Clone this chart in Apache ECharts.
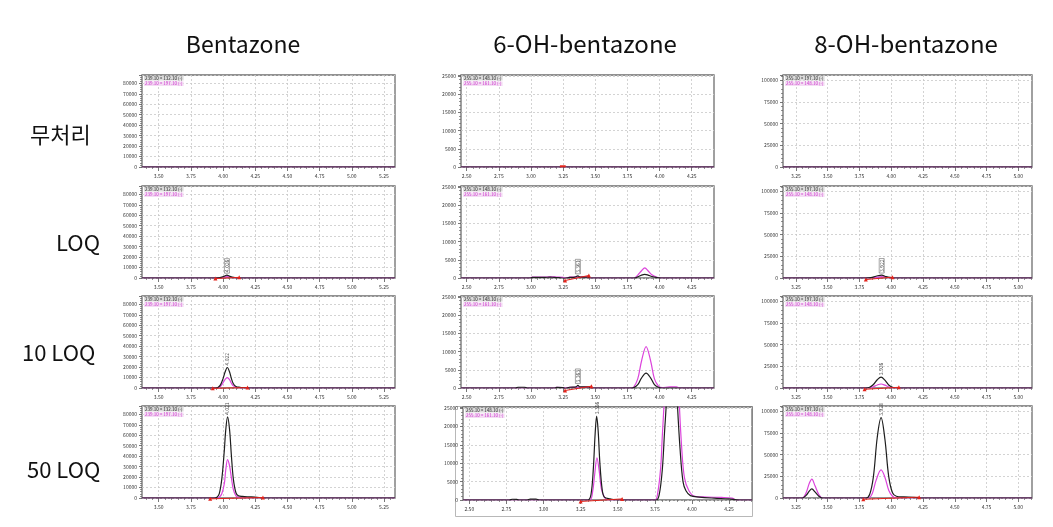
<!DOCTYPE html>
<html><head><meta charset="utf-8">
<script src="https://cdn.jsdelivr.net/npm/echarts@6/dist/echarts.min.js"></script>
<style>html,body{margin:0;padding:0;background:#fff}#c{width:1053px;height:527px}</style>
</head><body><div id="c"></div>
<script>
// ---------- labels ----------
const compounds = ['Bentazone', '6-OH-bentazone', '8-OH-bentazone'];
const levels = ['무처리', 'LOQ', '10 LOQ', '50 LOQ'];
const bentaMrm = ['239.10 > 132.10 (-)', '239.10 > 197.10 (-)'];
const oh6Mrm = ['255.10 > 148.10 (-)', '255.10 > 161.10 (-)'];
const oh8Mrm = ['255.10 > 197.10 (-)', '255.10 > 148.10 (-)'];

// ---------- tick labels ----------
const bentaXTicks = [3.50, 3.75, 4.00, 4.25, 4.50, 4.75, 5.00, 5.25];
const oh6XTicks = [2.50, 2.75, 3.00, 3.25, 3.50, 3.75, 4.00, 4.25];
const oh8XTicks = [3.25, 3.50, 3.75, 4.00, 4.25, 4.50, 4.75, 5.00];
const bentaYTicks = [0, 10000, 20000, 30000, 40000, 50000, 60000, 70000, 80000];
const oh6YTicks = [0, 5000, 10000, 15000, 20000, 25000];
const oh8YTicks = [0, 25000, 50000, 75000, 100000];

// ---------- Bentazone traces [time(min), intensity] ----------
const benta0Black = [[3.37, 0], [5.336, 0]];
const benta0Magenta = [[3.37, 0], [5.336, 0]];
const benta1Black = [[3.37,0],[3.93,0],[3.96,200],[3.99,900],[4.01,1800],[4.03,2700],[4.05,1800],[4.07,800],[4.10,200],[4.13,0],[5.336,0]];
const benta1Magenta = [[3.37,0],[3.96,0],[3.99,400],[4.01,900],[4.03,1300],[4.05,900],[4.07,400],[4.10,0],[5.336,0]];
const benta1Base = [[3.94,-500],[4.125,600]];
const benta1Peak = [4.03, 2700, '4.026'];
const benta2Black = [[3.37,0],[3.94,0],[3.96,500],[3.98,3000],[4.00,9000],[4.015,15000],[4.033,19600],[4.05,15500],[4.065,9000],[4.08,4000],[4.10,1500],[4.13,700],[4.18,300],[4.21,0],[5.336,0]];
const benta2Magenta = [[3.37,0],[3.96,0],[3.98,1500],[4.00,5000],[4.015,8000],[4.033,10000],[4.05,8000],[4.065,4500],[4.08,2000],[4.10,600],[4.12,0],[5.336,0]];
const benta2Base = [[3.92,-300],[4.19,400]];
const benta2Peak = [4.033, 19600, '4.022'];
const benta3Black = [[3.37,0],[3.93,0],[3.95,500],[3.97,4000],[3.99,18000],[4.01,46000],[4.02,64000],[4.035,77600],[4.05,66000],[4.065,40000],[4.08,18000],[4.10,5000],[4.12,2000],[4.15,1500],[4.22,1000],[4.28,400],[4.31,0],[5.336,0]];
const benta3Magenta = [[3.37,0],[3.95,0],[3.97,800],[3.99,4000],[4.01,14000],[4.02,26000],[4.035,36800],[4.05,31000],[4.065,19000],[4.08,8000],[4.10,2000],[4.12,500],[4.14,0],[5.336,0]];
const benta3Base = [[3.90,-800],[4.31,500]];
const benta3Peak = [4.035, 77600, '4.021'];

// ---------- 6-OH-bentazone traces ----------
const oh6_0Black = [[2.456,0],[4.423,0]];
const oh6_0Magenta = [[2.456,0],[4.423,0]];
const oh6_0Base = [[3.225,200],[3.27,200]];
const oh6_1Black = [[2.456,0],[2.99,0],[3.01,150],[3.10,150],[3.15,250],[3.18,150],[3.22,100],[3.265,-100],[3.30,150],[3.34,250],[3.365,600],[3.38,250],[3.44,250],[3.46,0],[3.80,0],[3.83,300],[3.86,800],[3.885,1000],[3.91,800],[3.94,400],[3.98,100],[4.01,0],[4.423,0]];
const oh6_1Magenta = [[2.456,0],[2.99,0],[3.01,250],[3.12,250],[3.15,350],[3.20,250],[3.25,150],[3.27,0],[3.30,250],[3.44,300],[3.46,0],[3.80,0],[3.83,800],[3.86,2000],[3.885,2800],[3.91,2000],[3.94,900],[3.98,200],[4.01,0],[4.423,0]];
const oh6_1Base = [[3.265,-700],[3.45,700]];
const oh6_1Peak = [3.365, 600, '3.361'];
const oh6_2Black = [[2.456,0],[2.88,0],[2.90,200],[2.95,200],[2.97,0],[3.18,0],[3.20,150],[3.25,100],[3.265,-150],[3.30,200],[3.35,300],[3.365,700],[3.38,300],[3.45,300],[3.47,0],[3.78,0],[3.80,100],[3.83,900],[3.86,2800],[3.895,4100],[3.93,2800],[3.96,900],[3.99,200],[4.02,0],[4.423,0]];
const oh6_2Magenta = [[2.456,0],[3.18,0],[3.20,200],[3.25,100],[3.27,0],[3.30,200],[3.45,250],[3.47,0],[3.78,0],[3.80,300],[3.83,2500],[3.86,7500],[3.895,11400],[3.93,7500],[3.96,2500],[3.99,600],[4.02,100],[4.08,300],[4.13,300],[4.16,0],[4.423,0]];
const oh6_2Base = [[3.265,-700],[3.47,500]];
const oh6_2Peak = [3.365, 700, '3.363'];
const oh6_3Black = [[2.4575,0],[2.77,0],[2.79,200],[2.82,150],[2.84,0],[2.89,0],[2.91,250],[2.95,250],[2.97,0],[3.30,0],[3.32,1500],[3.335,8000],[3.348,18000],[3.358,22800],[3.368,19000],[3.38,10000],[3.395,3000],[3.41,800],[3.45,300],[3.50,0],[3.76,0],[3.78,1500],[3.80,8000],[3.815,18000],[3.83,28000],[3.865,60000],[3.90,28000],[3.92,14000],[3.94,5000],[3.96,2500],[3.99,1200],[4.05,800],[4.15,500],[4.25,300],[4.32,0],[4.405,0]];
const oh6_3Magenta = [[2.4575,0],[3.31,0],[3.33,2000],[3.345,7000],[3.36,11500],[3.375,8000],[3.39,3000],[3.41,800],[3.43,0],[3.75,0],[3.77,2000],[3.79,9000],[3.80,17000],[3.815,28000],[3.86,65000],[3.91,30000],[3.93,15000],[3.95,6000],[3.98,2500],[4.02,1000],[4.10,800],[4.20,700],[4.27,500],[4.30,0],[4.405,0]];
const oh6_3Base = [[3.25,-400],[3.53,300]];
const oh6_3Peak = [3.358, 22800, '3.356'];

// ---------- 8-OH-bentazone traces ----------
const oh8_0Black = [[3.148,0],[5.108,0]];
const oh8_0Magenta = [[3.148,0],[5.108,0]];
const oh8_1Black = [[3.148,0],[3.80,0],[3.84,500],[3.88,2000],[3.925,3400],[3.96,1500],[4.00,300],[4.02,0],[5.108,0]];
const oh8_1Magenta = [[3.148,0],[3.84,0],[3.88,800],[3.925,1500],[3.97,500],[4.00,0],[5.108,0]];
const oh8_1Base = [[3.80,-1800],[4.01,1000]];
const oh8_1Peak = [3.925, 3400, '3.922'];
const oh8_2Black = [[3.148,0],[3.80,0],[3.83,800],[3.86,4000],[3.89,9500],[3.92,12500],[3.95,9000],[3.98,3500],[4.01,800],[4.04,0],[5.108,0]];
const oh8_2Magenta = [[3.148,0],[3.83,0],[3.86,1500],[3.89,3500],[3.92,4600],[3.95,3300],[3.98,1200],[4.01,200],[4.04,0],[5.108,0]];
const oh8_2Base = [[3.79,-1500],[4.06,800]];
const oh8_2Peak = [3.92, 12500, '3.926'];
const oh8_3Black = [[3.148,0],[3.30,0],[3.33,3000],[3.355,8000],[3.375,10500],[3.40,7000],[3.43,2000],[3.46,0],[3.80,0],[3.83,4000],[3.86,25000],[3.89,70000],[3.92,92500],[3.95,68000],[3.98,25000],[4.01,6000],[4.04,2000],[4.10,1200],[4.18,800],[4.22,0],[5.108,0]];
const oh8_3Magenta = [[3.148,0],[3.30,0],[3.33,6000],[3.355,17000],[3.375,21800],[3.40,14000],[3.43,4000],[3.46,0],[3.82,0],[3.85,5000],[3.88,20000],[3.92,32300],[3.95,24000],[3.98,9000],[4.01,2000],[4.04,0],[5.108,0]];
const oh8_3Base = [[3.78,-1500],[4.22,1000]];
const oh8_3Peak = [3.92, 92500, '3.928'];

// ---------- assembly ----------
const FONT = '"Noto Sans CJK KR", "Noto Sans", sans-serif';
const BLACK = '#1e1e1e', MAGENTA = '#dc44dc', RED = '#e3231b';

const columns = [
  { left: 142, width: 253, xmin: 3.37, xmax: 5.336, ymax: 88000, yint: 10000, xt: bentaXTicks, yt: bentaYTicks, mrm: bentaMrm,
    panels: [
      { black: benta0Black, magenta: benta0Magenta },
      { black: benta1Black, magenta: benta1Magenta, base: benta1Base, peak: benta1Peak, box: true },
      { black: benta2Black, magenta: benta2Magenta, base: benta2Base, peak: benta2Peak },
      { black: benta3Black, magenta: benta3Magenta, base: benta3Base, peak: benta3Peak }
    ] },
  { left: 461, width: 253, xmin: 2.456, xmax: 4.423, ymax: 25300, yint: 5000, xt: oh6XTicks, yt: oh6YTicks, mrm: oh6Mrm,
    panels: [
      { black: oh6_0Black, magenta: oh6_0Magenta, base: oh6_0Base, noSym: true },
      { black: oh6_1Black, magenta: oh6_1Magenta, base: oh6_1Base, peak: oh6_1Peak, box: true },
      { black: oh6_2Black, magenta: oh6_2Magenta, base: oh6_2Base, peak: oh6_2Peak, box: true },
      { black: oh6_3Black, magenta: oh6_3Magenta, base: oh6_3Base, peak: oh6_3Peak, left: 463, width: 289, top: 407, height: 93, xmin: 2.4575, xmax: 4.405 }
    ] },
  { left: 783, width: 249, xmin: 3.148, xmax: 5.108, ymax: 106000, yint: 25000, xt: oh8XTicks, yt: oh8YTicks, mrm: oh8Mrm,
    panels: [
      { black: oh8_0Black, magenta: oh8_0Magenta },
      { black: oh8_1Black, magenta: oh8_1Magenta, base: oh8_1Base, peak: oh8_1Peak, box: true },
      { black: oh8_2Black, magenta: oh8_2Magenta, base: oh8_2Base, peak: oh8_2Peak },
      { black: oh8_3Black, magenta: oh8_3Magenta, base: oh8_3Base, peak: oh8_3Peak }
    ] }
];
const rowTops = [75, 186, 296, 406];
const rowH = 92;

function minorTicks(majors, lo, hi) {
  const step = (majors[1] - majors[0]) / 5;
  const out = [];
  const start = majors[0] - 5 * step;
  for (let i = 0; i < 80; i++) {
    const v = +(start + i * step).toFixed(4);
    if (v > lo && v < hi && !majors.some(m => Math.abs(m - v) < 1e-6)) out.push(v);
  }
  return out;
}

const grids = [], xAxes = [], yAxes = [], series = [], graphics = [];
let k = 0;
columns.forEach((col, c) => {
  col.panels.forEach((p, r) => {
    const left = p.left ?? col.left, width = p.width ?? col.width;
    const top = p.top ?? rowTops[r], height = p.height ?? rowH;
    const xmin = p.xmin ?? col.xmin, xmax = p.xmax ?? col.xmax;
    grids.push({ left, top, width, height, show: true, borderColor: '#6e6e6e', borderWidth: 1.3, containLabel: false });
    xAxes.push({
      type: 'value', gridIndex: k, min: xmin, max: xmax, position: 'bottom',
      axisLine: { show: false },
      axisTick: { show: true, length: 4, customValues: col.xt, lineStyle: { color: '#555', width: 0.8 } },
      axisLabel: { customValues: col.xt, fontSize: 5, color: '#333', margin: 7, fontFamily: FONT, formatter: v => v.toFixed(2) },
      splitLine: { show: true, lineStyle: { color: '#c8c8c8', type: [2, 2], width: 0.8 } }
    });
    xAxes.push({
      type: 'value', gridIndex: k, min: xmin, max: xmax, position: 'bottom',
      axisLine: { show: false },
      axisTick: { show: true, length: 2, customValues: minorTicks(col.xt, xmin, xmax), lineStyle: { color: '#666', width: 0.7 } },
      axisLabel: { show: false },
      splitLine: { show: false }
    });
    yAxes.push({
      type: 'value', gridIndex: k, min: 0, max: col.ymax, interval: col.yint,
      axisLine: { show: false },
      axisTick: { show: true, length: 3, lineStyle: { color: '#555', width: 0.8 } },
      minorTick: { show: true, splitNumber: 5, length: 2, lineStyle: { color: '#666', width: 0.7 } },
      axisLabel: { fontSize: 5, color: '#333', margin: 5, fontFamily: FONT, showMaxLabel: false, formatter: v => String(v) },
      splitLine: { show: true, lineStyle: { color: '#c8c8c8', type: [2, 2], width: 0.8 } }
    });
    const xi = 2 * k, yi = k;
    series.push({ type: 'line', xAxisIndex: xi, yAxisIndex: yi, data: p.magenta, smooth: 0.35, symbol: 'none',
      lineStyle: { color: MAGENTA, width: 1.2 }, silent: true, z: 2 });
    series.push({ type: 'line', xAxisIndex: xi, yAxisIndex: yi, data: p.black, smooth: 0.35, symbol: 'none',
      lineStyle: { color: BLACK, width: 1.2 }, silent: true, z: 3 });
    if (p.base) {
      series.push({ type: 'line', xAxisIndex: xi, yAxisIndex: yi, data: p.base, clip: false,
        symbol: p.noSym ? 'none' : 'triangle', symbolSize: 4, showSymbol: !p.noSym,
        itemStyle: { color: RED }, lineStyle: { color: RED, width: p.noSym ? 2 : 1 }, silent: true, z: 4 });
    }
    if (p.peak) {
      series.push({ type: 'scatter', xAxisIndex: xi, yAxisIndex: yi, symbolSize: 0, silent: true, z: 5,
        data: [{ value: [p.peak[0], p.peak[1]], name: p.peak[2] }],
        label: { show: true, formatter: '{b}', rotate: 90, position: 'top', distance: 2, align: 'left', verticalAlign: 'middle',
          fontSize: 5, color: '#222', fontFamily: FONT,
          borderColor: p.box ? '#444' : 'transparent', borderWidth: p.box ? 0.6 : 0, padding: p.box ? [0, 1, 0, 1] : 0 } });
    }
    // mrm transition labels
    graphics.push({ type: 'text', x: left + 2, y: top + 1, silent: true, z: 10,
      style: { text: col.mrm[0], font: '4.5px ' + FONT, fill: '#222', backgroundColor: '#dcdcdc', padding: [0, 1] } });
    graphics.push({ type: 'text', x: left + 2, y: top + 6.5, silent: true, z: 10,
      style: { text: col.mrm[1], font: '4.5px ' + FONT, fill: '#c830c8', backgroundColor: '#f4dcf4', padding: [0, 1] } });
    k++;
  });
});

// column titles
const titleX = [243, 585, 906];
const titleSize = [23, 24, 24];
compounds.forEach((t, i) => {
  graphics.push({ type: 'text', x: titleX[i], y: 44, silent: true,
    style: { text: t, font: titleSize[i] + 'px ' + FONT, fill: '#111', textAlign: 'center', textVerticalAlign: 'middle', align: 'center', verticalAlign: 'middle' } });
});
// row labels
const rowLabelX = [30, 56, 22, 27];
const rowLabelY = [135, 243, 353, 470];
levels.forEach((t, i) => {
  graphics.push({ type: 'text', x: rowLabelX[i], y: rowLabelY[i], silent: true,
    style: { text: t, font: '22px ' + FONT, fill: '#111', textAlign: 'left', textVerticalAlign: 'middle', align: 'left', verticalAlign: 'middle' } });
});
// frame around pasted 6-OH 50 LOQ panel
graphics.push({ type: 'rect', silent: true, z: -1, shape: { x: 455.5, y: 406.5, width: 297, height: 110 },
  style: { fill: 'none', stroke: '#b8b8b8', lineWidth: 1 } });

const chart = echarts.init(document.getElementById('c'), null, { renderer: 'canvas' });
chart.setOption({
  backgroundColor: '#fff',
  animation: false,
  grid: grids, xAxis: xAxes, yAxis: yAxes, series, graphic: graphics
});
</script>
</body></html>
